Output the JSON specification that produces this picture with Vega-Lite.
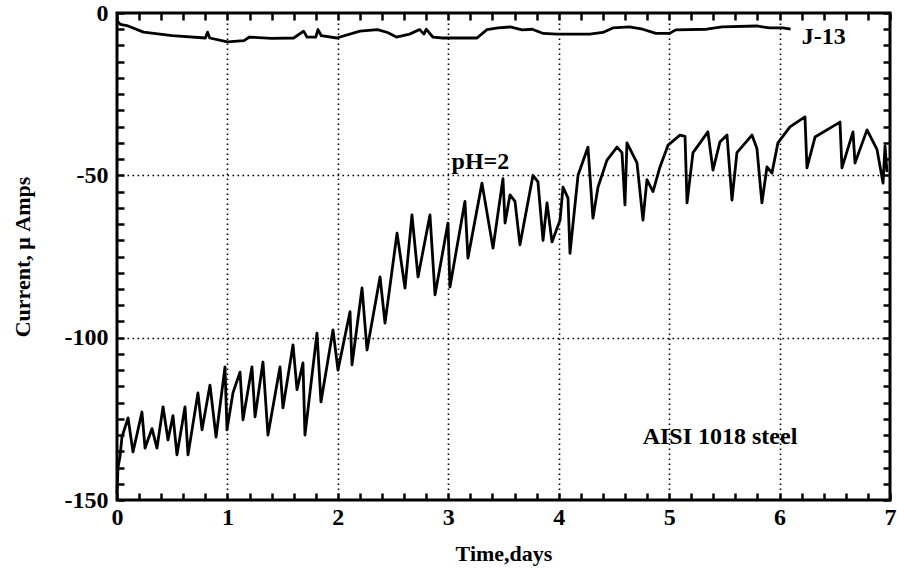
{
  "$schema": "https://vega.github.io/schema/vega-lite/v6.json",
  "width": 773,
  "height": 487,
  "autosize": {"type": "none"},
  "padding": {"left": 117, "top": 13, "right": 7, "bottom": 72},
  "config": {
    "view": {"stroke": "black", "strokeWidth": 3},
    "font": "Liberation Serif",
    "axis": {
      "domain": false,
      "labelFont": "Liberation Serif",
      "labelFontWeight": "bold",
      "labelFontSize": 24,
      "labelColor": "black",
      "titleFont": "Liberation Serif",
      "titleFontWeight": "bold",
      "titleFontSize": 22,
      "titleColor": "black",
      "tickColor": "black",
      "tickWidth": 2.5,
      "gridColor": "black",
      "gridWidth": 1.6,
      "gridDash": [1.6, 3.4]
    }
  },
  "datasets": {
    "curves": [
      {"series": "J-13", "day": 0, "current": -2.5},
      {"series": "J-13", "day": 0.03, "current": -3.5},
      {"series": "J-13", "day": 0.1, "current": -4},
      {"series": "J-13", "day": 0.24, "current": -5.9},
      {"series": "J-13", "day": 0.5, "current": -7},
      {"series": "J-13", "day": 0.8, "current": -7.7},
      {"series": "J-13", "day": 0.82, "current": -5.9},
      {"series": "J-13", "day": 0.84, "current": -7.7},
      {"series": "J-13", "day": 1.0, "current": -8.9},
      {"series": "J-13", "day": 1.15, "current": -8.5},
      {"series": "J-13", "day": 1.2, "current": -7.4},
      {"series": "J-13", "day": 1.4, "current": -7.8},
      {"series": "J-13", "day": 1.6, "current": -7.7},
      {"series": "J-13", "day": 1.69, "current": -5.6},
      {"series": "J-13", "day": 1.72, "current": -7.4},
      {"series": "J-13", "day": 1.8, "current": -7.4},
      {"series": "J-13", "day": 1.82, "current": -5.1},
      {"series": "J-13", "day": 1.85, "current": -7},
      {"series": "J-13", "day": 1.99, "current": -7.7},
      {"series": "J-13", "day": 2.2, "current": -5.6},
      {"series": "J-13", "day": 2.36, "current": -5.1},
      {"series": "J-13", "day": 2.45, "current": -6},
      {"series": "J-13", "day": 2.53, "current": -7.4},
      {"series": "J-13", "day": 2.65, "current": -6.5},
      {"series": "J-13", "day": 2.74, "current": -5.1},
      {"series": "J-13", "day": 2.78, "current": -6.5},
      {"series": "J-13", "day": 2.8, "current": -5},
      {"series": "J-13", "day": 2.86, "current": -7.4},
      {"series": "J-13", "day": 2.95, "current": -7.7},
      {"series": "J-13", "day": 3.26, "current": -7.7},
      {"series": "J-13", "day": 3.35, "current": -5.1},
      {"series": "J-13", "day": 3.45, "current": -4.6},
      {"series": "J-13", "day": 3.56, "current": -4.3},
      {"series": "J-13", "day": 3.67, "current": -5.2},
      {"series": "J-13", "day": 3.76, "current": -5},
      {"series": "J-13", "day": 3.86, "current": -6.3},
      {"series": "J-13", "day": 3.98, "current": -6.5},
      {"series": "J-13", "day": 4.28, "current": -6.5},
      {"series": "J-13", "day": 4.4, "current": -6},
      {"series": "J-13", "day": 4.49, "current": -4.6},
      {"series": "J-13", "day": 4.64, "current": -4.3},
      {"series": "J-13", "day": 4.76, "current": -5},
      {"series": "J-13", "day": 4.88, "current": -6.3},
      {"series": "J-13", "day": 5.0, "current": -6.3},
      {"series": "J-13", "day": 5.06, "current": -5.2},
      {"series": "J-13", "day": 5.34, "current": -5},
      {"series": "J-13", "day": 5.48, "current": -4.3},
      {"series": "J-13", "day": 5.79, "current": -4},
      {"series": "J-13", "day": 5.91, "current": -4.6},
      {"series": "J-13", "day": 6.03, "current": -4.6},
      {"series": "J-13", "day": 6.1, "current": -5},
      {"series": "pH=2", "day": 0, "current": -148},
      {"series": "pH=2", "day": 0.009, "current": -140},
      {"series": "pH=2", "day": 0.027, "current": -136.7},
      {"series": "pH=2", "day": 0.045, "current": -130.6},
      {"series": "pH=2", "day": 0.1, "current": -124.7},
      {"series": "pH=2", "day": 0.145, "current": -135.2},
      {"series": "pH=2", "day": 0.226, "current": -122.9},
      {"series": "pH=2", "day": 0.254, "current": -134},
      {"series": "pH=2", "day": 0.317, "current": -128},
      {"series": "pH=2", "day": 0.362, "current": -134},
      {"series": "pH=2", "day": 0.417, "current": -121.3},
      {"series": "pH=2", "day": 0.462, "current": -131.5},
      {"series": "pH=2", "day": 0.507, "current": -124},
      {"series": "pH=2", "day": 0.543, "current": -136.1},
      {"series": "pH=2", "day": 0.616, "current": -121.3},
      {"series": "pH=2", "day": 0.643, "current": -136.1},
      {"series": "pH=2", "day": 0.733, "current": -117},
      {"series": "pH=2", "day": 0.77, "current": -128.4},
      {"series": "pH=2", "day": 0.842, "current": -114.6},
      {"series": "pH=2", "day": 0.897, "current": -130.6},
      {"series": "pH=2", "day": 0.978, "current": -109},
      {"series": "pH=2", "day": 0.996, "current": -128.4},
      {"series": "pH=2", "day": 1.05, "current": -117},
      {"series": "pH=2", "day": 1.114, "current": -110.6},
      {"series": "pH=2", "day": 1.141, "current": -125.3},
      {"series": "pH=2", "day": 1.222, "current": -109},
      {"series": "pH=2", "day": 1.25, "current": -124.4},
      {"series": "pH=2", "day": 1.322, "current": -107.5},
      {"series": "pH=2", "day": 1.367, "current": -130},
      {"series": "pH=2", "day": 1.476, "current": -109},
      {"series": "pH=2", "day": 1.503, "current": -121.6},
      {"series": "pH=2", "day": 1.594, "current": -102.2},
      {"series": "pH=2", "day": 1.63, "current": -116},
      {"series": "pH=2", "day": 1.684, "current": -107.8},
      {"series": "pH=2", "day": 1.702, "current": -130},
      {"series": "pH=2", "day": 1.811, "current": -98.6},
      {"series": "pH=2", "day": 1.847, "current": -119.8},
      {"series": "pH=2", "day": 1.956, "current": -97.6},
      {"series": "pH=2", "day": 2.001, "current": -110},
      {"series": "pH=2", "day": 2.11, "current": -92},
      {"series": "pH=2", "day": 2.128, "current": -108.4},
      {"series": "pH=2", "day": 2.219, "current": -84.7},
      {"series": "pH=2", "day": 2.264, "current": -103.8},
      {"series": "pH=2", "day": 2.382, "current": -81.3},
      {"series": "pH=2", "day": 2.427, "current": -95.5},
      {"series": "pH=2", "day": 2.536, "current": -67.8},
      {"series": "pH=2", "day": 2.608, "current": -84.7},
      {"series": "pH=2", "day": 2.671, "current": -62.2},
      {"series": "pH=2", "day": 2.726, "current": -81.3},
      {"series": "pH=2", "day": 2.834, "current": -62.2},
      {"series": "pH=2", "day": 2.88, "current": -86.8},
      {"series": "pH=2", "day": 2.997, "current": -64.7},
      {"series": "pH=2", "day": 3.015, "current": -84.4},
      {"series": "pH=2", "day": 3.151, "current": -58},
      {"series": "pH=2", "day": 3.178, "current": -75.5},
      {"series": "pH=2", "day": 3.305, "current": -52.4},
      {"series": "pH=2", "day": 3.405, "current": -72.4},
      {"series": "pH=2", "day": 3.495, "current": -51},
      {"series": "pH=2", "day": 3.514, "current": -64.7},
      {"series": "pH=2", "day": 3.559, "current": -56},
      {"series": "pH=2", "day": 3.604, "current": -58},
      {"series": "pH=2", "day": 3.649, "current": -71.4},
      {"series": "pH=2", "day": 3.767, "current": -50},
      {"series": "pH=2", "day": 3.812, "current": -52},
      {"series": "pH=2", "day": 3.858, "current": -70},
      {"series": "pH=2", "day": 3.894, "current": -58.5},
      {"series": "pH=2", "day": 3.939, "current": -70.5},
      {"series": "pH=2", "day": 4.012, "current": -63.8},
      {"series": "pH=2", "day": 4.039, "current": -53.6},
      {"series": "pH=2", "day": 4.084, "current": -57},
      {"series": "pH=2", "day": 4.102, "current": -74},
      {"series": "pH=2", "day": 4.175, "current": -50},
      {"series": "pH=2", "day": 4.265, "current": -41.3},
      {"series": "pH=2", "day": 4.31, "current": -63.2},
      {"series": "pH=2", "day": 4.356, "current": -53.6},
      {"series": "pH=2", "day": 4.437, "current": -45.3},
      {"series": "pH=2", "day": 4.528, "current": -41.3},
      {"series": "pH=2", "day": 4.573, "current": -43},
      {"series": "pH=2", "day": 4.6, "current": -59.1},
      {"series": "pH=2", "day": 4.618, "current": -40},
      {"series": "pH=2", "day": 4.709, "current": -46.2},
      {"series": "pH=2", "day": 4.763, "current": -63.8},
      {"series": "pH=2", "day": 4.799, "current": -51.3},
      {"series": "pH=2", "day": 4.854, "current": -55},
      {"series": "pH=2", "day": 4.917, "current": -47.4},
      {"series": "pH=2", "day": 4.99, "current": -40.7},
      {"series": "pH=2", "day": 5.098, "current": -37.6},
      {"series": "pH=2", "day": 5.144, "current": -38},
      {"series": "pH=2", "day": 5.162, "current": -58.5},
      {"series": "pH=2", "day": 5.216, "current": -43},
      {"series": "pH=2", "day": 5.28, "current": -40},
      {"series": "pH=2", "day": 5.351, "current": -36.6},
      {"series": "pH=2", "day": 5.397, "current": -48.4},
      {"series": "pH=2", "day": 5.46, "current": -39.7},
      {"series": "pH=2", "day": 5.524, "current": -37.6},
      {"series": "pH=2", "day": 5.569, "current": -57.6},
      {"series": "pH=2", "day": 5.614, "current": -43},
      {"series": "pH=2", "day": 5.75, "current": -37.6},
      {"series": "pH=2", "day": 5.795, "current": -41.7},
      {"series": "pH=2", "day": 5.84, "current": -58.5},
      {"series": "pH=2", "day": 5.886, "current": -47.4},
      {"series": "pH=2", "day": 5.931, "current": -49.3},
      {"series": "pH=2", "day": 5.985, "current": -40},
      {"series": "pH=2", "day": 6.094, "current": -35.1},
      {"series": "pH=2", "day": 6.23, "current": -32},
      {"series": "pH=2", "day": 6.248, "current": -47.7},
      {"series": "pH=2", "day": 6.321, "current": -38.2},
      {"series": "pH=2", "day": 6.547, "current": -33.6},
      {"series": "pH=2", "day": 6.565, "current": -47.7},
      {"series": "pH=2", "day": 6.665, "current": -36.6},
      {"series": "pH=2", "day": 6.683, "current": -46.2},
      {"series": "pH=2", "day": 6.792, "current": -36},
      {"series": "pH=2", "day": 6.882, "current": -42},
      {"series": "pH=2", "day": 6.937, "current": -52.4},
      {"series": "pH=2", "day": 6.955, "current": -41},
      {"series": "pH=2", "day": 6.973, "current": -49}
    ],
    "labels": [
      {"day": 6.2, "current": -7.5, "text": "J-13"},
      {"day": 3.03, "current": -46, "text": "pH=2"},
      {"day": 4.76, "current": -130.6, "text": "AISI 1018 steel"}
    ]
  },
  "layer": [
    {
      "data": {"name": "curves"},
      "mark": {"type": "line", "color": "black", "strokeWidth": 2.8, "strokeJoin": "round"},
      "encoding": {
        "x": {
          "field": "day", "type": "quantitative",
          "scale": {"domain": [0, 7], "nice": false, "zero": false},
          "axis": {
            "orient": "bottom",
            "title": "Time,days",
            "titlePadding": 14,
            "values": [0,0.2,0.4,0.6,0.8,1,1.2,1.4,1.6,1.8,2,2.2,2.4,2.6,2.8,3,3.2,3.4,3.6,3.8,4,4.2,4.4,4.6,4.8,5,5.2,5.4,5.6,5.8,6,6.2,6.4,6.6,6.8,7],
            "labelExpr": "datum.value % 1 === 0 ? '' + datum.value : ''",
            "tickSize": -7,
            "labelPadding": 12,
            "labelFlush": false,
            "labelOverlap": false,
            "grid": true,
            "gridOpacity": {"condition": {"test": "datum.value % 1 === 0 && datum.value > 0 && datum.value < 7", "value": 1}, "value": 0}
          }
        },
        "y": {
          "field": "current", "type": "quantitative",
          "scale": {"domain": [-150, 0], "nice": false, "zero": false},
          "axis": {
            "orient": "left",
            "title": "Current, μ Amps",
            "titlePadding": 30,
            "values": [-150,-145,-140,-135,-130,-125,-120,-115,-110,-105,-100,-95,-90,-85,-80,-75,-70,-65,-60,-55,-50,-45,-40,-35,-30,-25,-20,-15,-10,-5,0],
            "labelExpr": "datum.value % 50 === 0 ? '' + datum.value : ''",
            "tickSize": -7,
            "labelPadding": 16,
            "labelFlush": false,
            "labelOverlap": false,
            "grid": true,
            "gridOpacity": {"condition": {"test": "datum.value % 50 === 0 && datum.value > -150 && datum.value < 0", "value": 1}, "value": 0}
          }
        },
        "detail": {"field": "series"}
      }
    },
    {
      "data": {"name": "labels"},
      "mark": {"type": "text", "align": "left", "baseline": "middle", "font": "Liberation Serif", "fontWeight": "bold", "fontSize": 24, "color": "black"},
      "encoding": {
        "x": {
          "field": "day", "type": "quantitative",
          "axis": {
            "orient": "top", "title": null, "labels": false, "grid": false,
            "values": [0,0.2,0.4,0.6,0.8,1,1.2,1.4,1.6,1.8,2,2.2,2.4,2.6,2.8,3,3.2,3.4,3.6,3.8,4,4.2,4.4,4.6,4.8,5,5.2,5.4,5.6,5.8,6,6.2,6.4,6.6,6.8,7],
            "tickSize": -7
          }
        },
        "y": {
          "field": "current", "type": "quantitative",
          "axis": {
            "orient": "right", "title": null, "labels": false, "grid": false,
            "values": [-150,-145,-140,-135,-130,-125,-120,-115,-110,-105,-100,-95,-90,-85,-80,-75,-70,-65,-60,-55,-50,-45,-40,-35,-30,-25,-20,-15,-10,-5,0],
            "tickSize": -7
          }
        },
        "text": {"field": "text"}
      }
    }
  ]
}
